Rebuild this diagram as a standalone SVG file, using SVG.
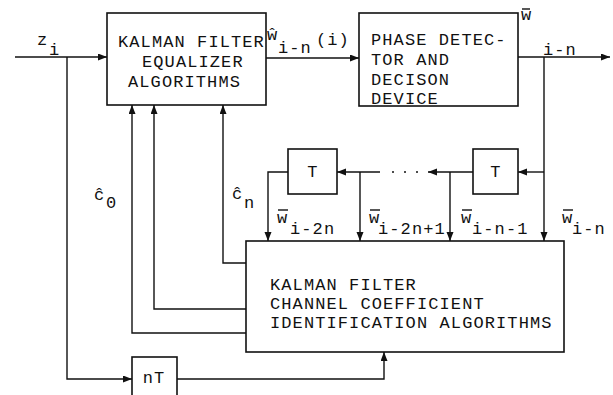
<svg xmlns="http://www.w3.org/2000/svg" width="613" height="395" viewBox="0 0 613 395">
<defs>
<marker id="ah" markerUnits="userSpaceOnUse" markerWidth="10" markerHeight="8" refX="9" refY="3.5" orient="auto">
<path d="M0,0 L9,3.5 L0,7 z" fill="#111"/>
</marker>
<style>
.box{fill:#fff;stroke:#111;stroke-width:1.6}
.c{fill:none;stroke:#111;stroke-width:1.4;marker-end:url(#ah)}
.l{fill:none;stroke:#111;stroke-width:1.4}
text{font-family:"Liberation Mono","Courier New",monospace;font-size:17px;letter-spacing:1.1px;fill:#111}
</style>
</defs>
<rect width="613" height="395" fill="#fff"/>
<g id="connectors">
<path class="c" d="M15,57 H107"/>
<path class="c" d="M266,58 H359"/>
<path class="c" d="M518,57 H610"/>
<path class="c" d="M544,57 V241"/>
<path class="c" d="M544,172 H518"/>
<path class="c" d="M473,172 H428"/>
<path class="c" d="M450,172 V241"/>
<path class="c" d="M380,172 H337"/>
<path class="c" d="M360,172 V241"/>
<path class="c" d="M288,172 H268 V241"/>
<path class="c" d="M246,263 H223 V105"/>
<path class="c" d="M246,309 H154 V105"/>
<path class="c" d="M246,333 H132 V105"/>
<path class="c" d="M67,57 V379 H132"/>
<path class="c" d="M177,379 H384 V352"/>
<circle cx="393" cy="172" r="1" fill="#111"/>
<circle cx="405" cy="172" r="1" fill="#111"/>
<circle cx="417" cy="172" r="1" fill="#111"/>
</g>
<g id="equalizer">
<rect class="box" x="107" y="13" width="159" height="92"/>
<text x="118" y="47">KALMAN FILTER</text>
<text x="142" y="67">EQUALIZER</text>
<text x="128" y="87">ALGORITHMS</text>
</g>
<g id="phase-detector">
<rect class="box" x="359" y="13" width="159" height="93"/>
<text x="371" y="45">PHASE DETEC-</text>
<text x="371" y="65">TOR AND</text>
<text x="371" y="85">DECISON</text>
<text x="371" y="104">DEVICE</text>
</g>
<g id="delay-T1">
<rect class="box" x="288" y="149" width="49" height="45"/>
<text x="313" y="177" text-anchor="middle">T</text>
</g>
<g id="delay-T2">
<rect class="box" x="473" y="149" width="45" height="45"/>
<text x="496" y="177" text-anchor="middle">T</text>
</g>
<g id="channel-identification">
<rect class="box" x="246" y="241" width="318" height="111"/>
<text x="270" y="290">KALMAN FILTER</text>
<text x="270" y="309">CHANNEL COEFFICIENT</text>
<text x="270" y="328">IDENTIFICATION ALGORITHMS</text>
</g>
<g id="delay-nT">
<rect class="box" x="132" y="357" width="45" height="42"/>
<text x="154" y="383" text-anchor="middle">nT</text>
</g>
<g id="labels">
<text x="37" y="45">z</text><text x="49" y="55">i</text>
<text x="267" y="40">ŵ</text><text x="278" y="53">i-n</text><text x="316" y="45">(i)</text>
<line class="l" x1="522" y1="9" x2="530" y2="9"/><text x="521" y="20">w</text><text x="543" y="55">i-n</text>
<text x="94" y="200">ĉ</text><text x="106" y="208">0</text>
<text x="232" y="199">ĉ</text><text x="244" y="208">n</text>
<line class="l" x1="278" y1="210" x2="288" y2="210"/><text x="277" y="223">w</text><text x="290" y="234">i-2n</text>
<line class="l" x1="370" y1="210" x2="380" y2="210"/><text x="369" y="223">w</text><text x="378" y="234">i-2n+1</text>
<line class="l" x1="462" y1="210" x2="472" y2="210"/><text x="461" y="223">w</text><text x="472" y="234">i-n-1</text>
<line class="l" x1="563" y1="210" x2="573" y2="210"/><text x="562" y="223">w</text><text x="572" y="234">i-n</text>
</g>
</svg>
